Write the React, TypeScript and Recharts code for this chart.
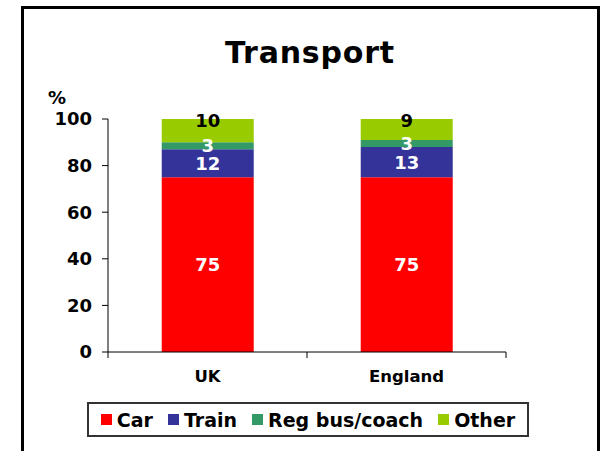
import { Bar, BarChart, LabelList, XAxis, YAxis } from 'recharts';

const regions = ['UK', 'England'];
const car = [75, 75];
const train = [12, 13];
const bus = [3, 3];
const other = [10, 9];
const yTicks = [0, 20, 40, 60, 80, 100];

const series = [
  { key: 'car', name: 'Car', color: '#FF0000', labelColor: '#FFFFFF' },
  { key: 'train', name: 'Train', color: '#333399', labelColor: '#FFFFFF' },
  { key: 'bus', name: 'Reg bus/coach', color: '#339966', labelColor: '#FFFFFF' },
  { key: 'other', name: 'Other', color: '#99CC00', labelColor: '#000000' },
];

const data = regions.map((name, i) => ({
  name,
  car: car[i],
  train: train[i],
  bus: bus[i],
  other: other[i],
}));

const FONT = '"DejaVu Sans", Verdana, sans-serif';

const CHART_W = 606;
const CHART_H = 451;
const MARGIN = { top: 119, right: 100, left: 0, bottom: 69 };
const Y_AXIS_W = 108;
const BAND = (CHART_W - MARGIN.right - MARGIN.left - Y_AXIS_W) / regions.length;

const makeLabel = (color: string, atTop: boolean) => (props: any) => {
  const { x, y, width, height, value } = props;
  const cx = Number(x) + Number(width) / 2;
  if (atTop) {
    return (
      <text x={cx} y={Number(y) + 8} fill={color} textAnchor="middle" fontSize={18} fontWeight="bold" fontFamily={FONT}>
        {value}
      </text>
    );
  }
  return (
    <text
      x={cx}
      y={Number(y) + Number(height) / 2 + 6.5}
      fill={color}
      textAnchor="middle"
      fontSize={18}
      fontWeight="bold"
      fontFamily={FONT}
    >
      {value}
    </text>
  );
};

// category label plus tick marks on the band edges
const CatTick = (props: any) => {
  const { x, y, payload, index } = props;
  const axisY = Number(y) - 13;
  const left = Number(x) - BAND / 2;
  const right = Number(x) + BAND / 2;
  return (
    <g>
      <line x1={left} x2={left} y1={axisY} y2={axisY + 6} stroke="#000" />
      {index === regions.length - 1 && <line x1={right} x2={right} y1={axisY} y2={axisY + 6} stroke="#000" />}
      <text x={x} y={Number(y) + 17} textAnchor="middle" fill="#000" fontSize={16.5} fontWeight="bold" fontFamily={FONT}>
        {payload.value}
      </text>
    </g>
  );
};

const App = () => {
  return (
    <div style={{ position: 'absolute', left: 0, top: 0, width: CHART_W, height: CHART_H, overflow: 'hidden', background: '#fff' }}>
      <div
        style={{
          position: 'absolute',
          left: 21,
          top: 6,
          width: 579,
          height: 470,
          border: '3px solid #000',
          boxSizing: 'border-box',
        }}
      />
      <div style={{ position: 'absolute', left: 0, top: 0 }}>
        <BarChart width={CHART_W} height={CHART_H} data={data} margin={MARGIN} barCategoryGap="27%">
          <XAxis
            dataKey="name"
            height={30}
            axisLine={{ stroke: '#000' }}
            tickLine={false}
            tickSize={6}
            tickMargin={7}
            tick={<CatTick />}
          />
          <YAxis
            width={Y_AXIS_W}
            domain={[0, 100]}
            ticks={yTicks}
            axisLine={{ stroke: '#000' }}
            tickLine={{ stroke: '#000' }}
            tickSize={6}
            tickMargin={10}
            tick={{ fill: '#000', fontSize: 18, fontWeight: 'bold', fontFamily: FONT }}
          />
          {series.map((s) => (
            <Bar key={s.key} dataKey={s.key} name={s.name} stackId="a" fill={s.color} isAnimationActive={false}>
              <LabelList dataKey={s.key} content={makeLabel(s.labelColor, s.key === 'other')} />
            </Bar>
          ))}
        </BarChart>
      </div>
      <svg width={CHART_W} height={CHART_H} style={{ position: 'absolute', left: 0, top: 0, pointerEvents: 'none' }}>
        <text x={310} y={63} textAnchor="middle" fontSize={30} letterSpacing={0.8} fontWeight="bold" fontFamily={FONT} fill="#000">
          Transport
        </text>
        <text x={48} y={104} fontSize={18} fontWeight="bold" fontFamily={FONT} fill="#000">
          %
        </text>
      </svg>
      <div
        style={{
          position: 'absolute',
          left: 87,
          top: 402,
          width: 442,
          height: 35,
          border: '2px solid #333',
          boxSizing: 'border-box',
          display: 'flex',
          alignItems: 'center',
          justifyContent: 'center',
          gap: 15,
          fontFamily: FONT,
          fontWeight: 'bold',
          fontSize: 19,
          color: '#000',
        }}
      >
        {series.map((s) => (
          <div key={s.key} style={{ display: 'flex', alignItems: 'center', whiteSpace: 'nowrap' }}>
            <span style={{ display: 'inline-block', width: 11, height: 11, background: s.color, marginRight: 5 }} />
            <span>{s.name}</span>
          </div>
        ))}
      </div>
    </div>
  );
};

export default App;
